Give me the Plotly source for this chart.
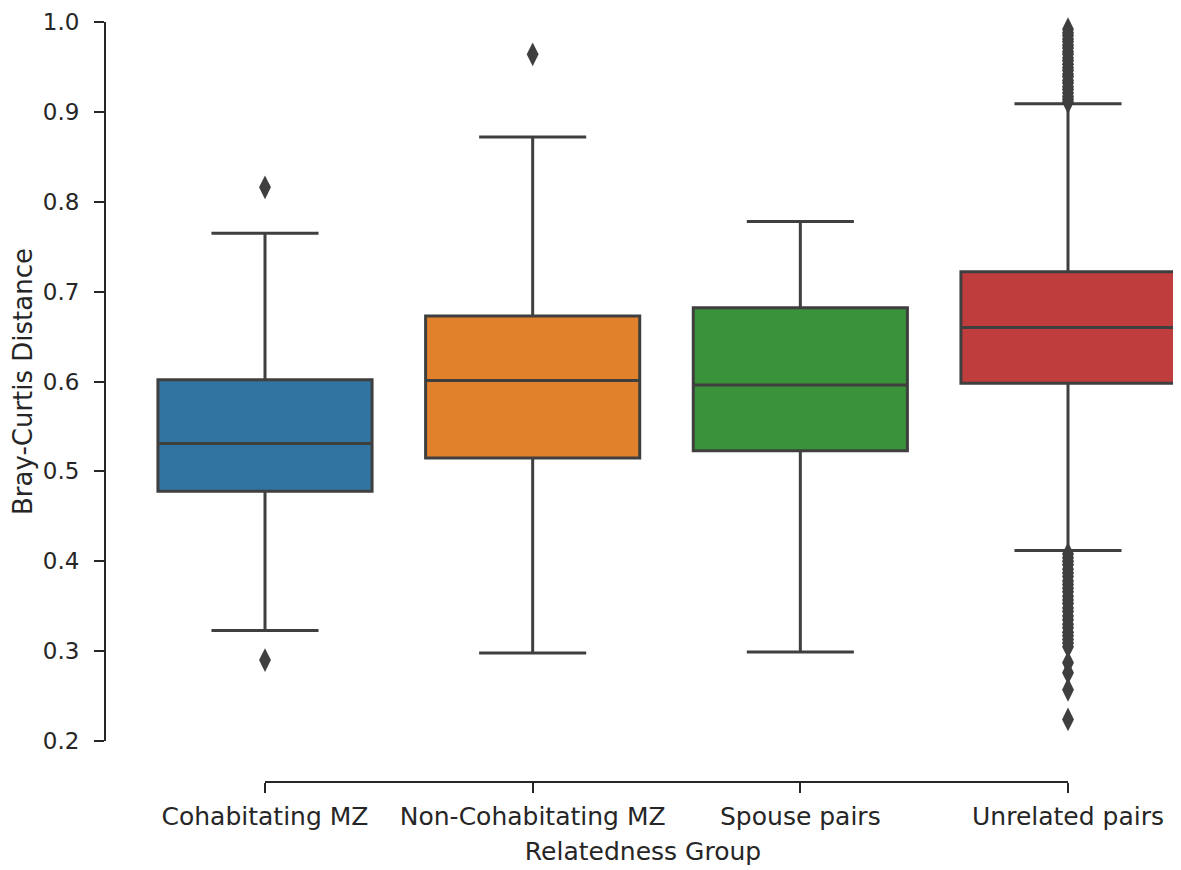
import plotly.graph_objects as go

categories = ["Cohabitating MZ", "Non-Cohabitating MZ", "Spouse pairs", "Unrelated pairs"]
colors = ["#3274a1", "#e1812c", "#3a923a", "#c03d3e"]
q1 = [0.478, 0.515, 0.523, 0.598]
median = [0.531, 0.601, 0.596, 0.660]
q3 = [0.602, 0.673, 0.682, 0.722]
lower_whisker = [0.323, 0.298, 0.299, 0.412]
upper_whisker = [0.765, 0.872, 0.778, 0.909]

outliers_cohab = [0.816, 0.290]
outliers_noncohab = [0.964]
outliers_spouse = []
outliers_unrelated = [
    0.911, 0.914, 0.917, 0.921, 0.925, 0.928, 0.932, 0.935, 0.939, 0.942,
    0.946, 0.949, 0.953, 0.957, 0.960, 0.964, 0.967, 0.971, 0.974, 0.978,
    0.981, 0.985, 0.988, 0.992,
    0.408, 0.404, 0.400, 0.396, 0.391, 0.387, 0.383, 0.378, 0.374, 0.370,
    0.366, 0.361, 0.357, 0.353, 0.348, 0.344, 0.339, 0.335, 0.330, 0.326,
    0.321, 0.317, 0.313, 0.309, 0.305,
    0.287, 0.276, 0.257, 0.224,
]
outliers = [outliers_cohab, outliers_noncohab, outliers_spouse, outliers_unrelated]

y_ticks = [0.2, 0.3, 0.4, 0.5, 0.6, 0.7, 0.8, 0.9, 1.0]

edge = "#3f3f3f"
spine = "#262626"
font_family = "DejaVu Sans"

fig = go.Figure()
for i, cat in enumerate(categories):
    fig.add_trace(go.Box(
        x=[i], q1=[q1[i]], median=[median[i]], q3=[q3[i]],
        lowerfence=[lower_whisker[i]], upperfence=[upper_whisker[i]],
        fillcolor=colors[i], line=dict(color=edge, width=3),
        width=0.8, whiskerwidth=0.5, boxpoints=False, showlegend=False,
        name=cat,
    ))
    if outliers[i]:
        fig.add_trace(go.Scatter(
            x=[i] * len(outliers[i]), y=outliers[i], mode="markers",
            marker=dict(symbol="diamond-tall", size=17, color=edge, line=dict(width=0)),
            cliponaxis=False, showlegend=False,
        ))

# page offset (browser body margin) compensation
OFF = 8
W, H = 1181 - OFF, 870 - OFF
left_px, top_px, bottom_px = 105 - OFF, 22 - OFF, 782 - OFF
x0_px, x3_px = 265 - OFF, 1068 - OFF
y02_px = 741 - OFF
scale = (x3_px - x0_px) / 3
xr0 = (left_px - x0_px) / scale
xr1 = (W - x0_px) / scale
ydom0 = (bottom_px - y02_px) / (bottom_px - top_px)

tick_size = 23

fig.update_layout(
    width=W, height=H,
    margin=dict(l=left_px, r=0, t=top_px, b=H - bottom_px, autoexpand=False),
    paper_bgcolor="white", plot_bgcolor="white",
    font=dict(family=font_family, size=tick_size, color=spine),
    xaxis=dict(
        range=[xr0, xr1], domain=[0, 1], anchor="free", position=0,
        tickvals=list(range(len(categories))), ticktext=categories,
        ticks="outside", ticklen=10, tickwidth=2, tickcolor=spine,
        showline=False, showgrid=False, zeroline=False,
        tickfont=dict(size=25, family=font_family, color=spine),
        ticklabelstandoff=2, ticklabeloverflow="allow",
        title=dict(text="Relatedness Group", font=dict(size=25, family=font_family, color=spine), standoff=12),
    ),
    yaxis=dict(
        range=[0.2, 1.0], domain=[ydom0, 1], anchor="free", position=0,
        tickvals=y_ticks, ticktext=[f"{v:.1f}" for v in y_ticks],
        ticks="outside", ticklen=10, tickwidth=2, tickcolor=spine,
        showline=True, linecolor=spine, linewidth=2,
        showgrid=False, zeroline=False,
        tickfont=dict(size=tick_size, family=font_family, color=spine),
        ticklabelstandoff=10, ticklabeloverflow="allow",
        title=dict(text="Bray-Curtis Distance", font=dict(size=26, family=font_family, color=spine), standoff=7),
    ),
    shapes=[dict(type="line", xref="x", yref="paper", x0=0, x1=len(categories) - 1, y0=0, y1=0,
                 line=dict(color=spine, width=2))],
)

fig.write_html("out.html")
